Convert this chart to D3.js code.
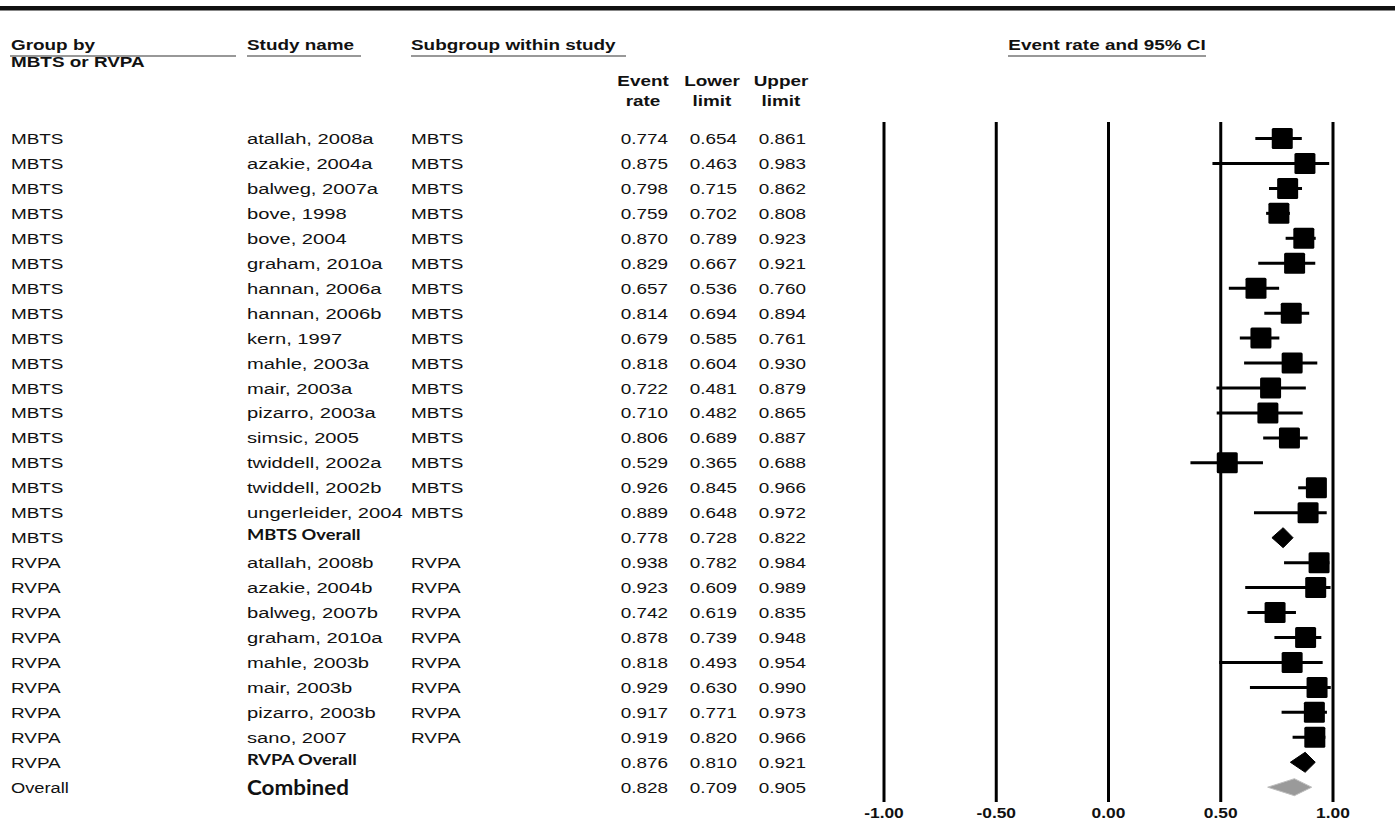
<!DOCTYPE html>
<html>
<head>
<meta charset="utf-8">
<script src="https://cdn.jsdelivr.net/npm/d3@7/dist/d3.min.js"></script>
<style>
  html, body { margin: 0; padding: 0; background: #fff; }
  svg { display: block; }
</style>
</head>
<body>
<script>
// ---------------- DATA ----------------
const groups = ["MBTS","MBTS","MBTS","MBTS","MBTS","MBTS","MBTS","MBTS","MBTS","MBTS","MBTS","MBTS","MBTS","MBTS","MBTS","MBTS","MBTS",
  "RVPA","RVPA","RVPA","RVPA","RVPA","RVPA","RVPA","RVPA","RVPA","Overall"];
const studies = ["atallah, 2008a","azakie, 2004a","balweg, 2007a","bove, 1998","bove, 2004","graham, 2010a","hannan, 2006a",
  "hannan, 2006b","kern, 1997","mahle, 2003a","mair, 2003a","pizarro, 2003a","simsic, 2005","twiddell, 2002a",
  "twiddell, 2002b","ungerleider, 2004","MBTS Overall",
  "atallah, 2008b","azakie, 2004b","balweg, 2007b","graham, 2010a","mahle, 2003b","mair, 2003b","pizarro, 2003b",
  "sano, 2007","RVPA Overall","Combined"];
const subgroups = ["MBTS","MBTS","MBTS","MBTS","MBTS","MBTS","MBTS","MBTS","MBTS","MBTS","MBTS","MBTS","MBTS","MBTS","MBTS","MBTS","",
  "RVPA","RVPA","RVPA","RVPA","RVPA","RVPA","RVPA","RVPA","",""];
const eventRate = [0.774,0.875,0.798,0.759,0.870,0.829,0.657,0.814,0.679,0.818,0.722,0.710,0.806,0.529,0.926,0.889,0.778,
  0.938,0.923,0.742,0.878,0.818,0.929,0.917,0.919,0.876,0.828];
const lowerLimit = [0.654,0.463,0.715,0.702,0.789,0.667,0.536,0.694,0.585,0.604,0.481,0.482,0.689,0.365,0.845,0.648,0.728,
  0.782,0.609,0.619,0.739,0.493,0.630,0.771,0.820,0.810,0.709];
const upperLimit = [0.861,0.983,0.862,0.808,0.923,0.921,0.760,0.894,0.761,0.930,0.879,0.865,0.887,0.688,0.966,0.972,0.822,
  0.984,0.989,0.835,0.948,0.954,0.990,0.973,0.966,0.921,0.905];
const rowKind = ["study","study","study","study","study","study","study","study","study","study","study","study","study","study","study","study","subtotal",
  "study","study","study","study","study","study","study","study","subtotal","total"];
const axisTicks = [-1.00,-0.50,0.00,0.50,1.00];

// ---------------- LAYOUT ----------------
const W = 1395, H = 825;
const svg = d3.select("body").append("svg").attr("width", W).attr("height", H);

const SANS = "'Liberation Sans', Arial, Helvetica, sans-serif";
const CAL = "Lato, 'Open Sans', sans-serif";
const SX = 1.22; // horizontal stretch seen in the reference text
const FS = 15.5;

function txt(x, y, s, o = {}) {
  return svg.append("text")
    .attr("transform", `translate(${x},${y}) scale(${o.sx ?? SX},1)`)
    .attr("font-family", o.family || SANS)
    .attr("font-size", o.size || FS)
    .attr("font-weight", o.weight || "normal")
    .attr("text-anchor", o.anchor || "start")
    .attr("fill", "#111")
    .text(s);
}

const rowY = d3.scaleLinear().domain([0, 1]).range([138.5, 138.5 + 24.95]);
const x = d3.scaleLinear().domain([-1, 1]).range([884, 1333]);
const fmtTick = v => d3.format(".2f")(v).replace("\u2212", "-");

// top rule
svg.append("rect").attr("x", 0).attr("y", 6).attr("width", W).attr("height", 4.5).attr("fill", "#111");

// headers
txt(11, 50, "Group by", {weight: "bold"});
txt(11, 67, "MBTS or RVPA", {weight: "bold"});
txt(247, 50, "Study name", {weight: "bold"});
txt(411, 50, "Subgroup within study", {weight: "bold"});
txt(1107, 50, "Event rate and 95% CI", {weight: "bold", anchor: "middle"});
const ul = [[10, 236], [247, 361], [411, 626], [1008, 1206]];
ul.forEach(([a, b]) => svg.append("line").attr("x1", a).attr("x2", b).attr("y1", 56).attr("y2", 56)
  .attr("stroke", "#333").attr("stroke-width", 1.2));

const numCols = [{x: 668, top: "Event", bot: "rate", cx: 643},
                 {x: 737, top: "Lower", bot: "limit", cx: 712},
                 {x: 806, top: "Upper", bot: "limit", cx: 781}];
numCols.forEach(c => {
  txt(c.cx, 86, c.top, {weight: "bold", anchor: "middle"});
  txt(c.cx, 106, c.bot, {weight: "bold", anchor: "middle"});
});

// rows
const idx = d3.range(studies.length);
idx.forEach(i => {
  const yb = rowY(i) + 5.5;
  txt(11, yb, groups[i], groups[i] === "Overall" ? {sx: 1.18} : {});
  const k = rowKind[i];
  if (k === "study") {
    txt(247, yb, studies[i], {sx: 1.3});
  } else if (k === "subtotal") {
    txt(247, yb - 3, studies[i], {family: CAL, weight: "bold", size: 15.5, sx: 1.18});
  } else {
    txt(247, yb + 2, studies[i], {family: CAL, weight: "bold", size: 20, sx: 1.12});
  }
  txt(411, yb, subgroups[i]);
  [eventRate, lowerLimit, upperLimit].forEach((arr, j) => {
    txt(numCols[j].x, yb, d3.format(".3f")(arr[i]), {anchor: "end"});
  });
});

// plot: vertical reference lines
svg.selectAll("line.grid").data(axisTicks).join("line")
  .attr("class", "grid")
  .attr("x1", d => x(d)).attr("x2", d => x(d))
  .attr("y1", 122).attr("y2", 802)
  .attr("stroke", "#000").attr("stroke-width", 3);

axisTicks.forEach(t => txt(x(t), 818, fmtTick(t), {weight: "bold", anchor: "middle", sx: 1.12}));

// CI lines & squares
const studyIdx = idx.filter(i => rowKind[i] === "study");
svg.selectAll("line.ci").data(studyIdx).join("line")
  .attr("class", "ci")
  .attr("x1", i => x(lowerLimit[i])).attr("x2", i => x(upperLimit[i]))
  .attr("y1", i => rowY(i)).attr("y2", i => rowY(i))
  .attr("stroke", "#000").attr("stroke-width", 3);

const SQ = 21;
svg.selectAll("rect.sq").data(studyIdx).join("rect")
  .attr("class", "sq")
  .attr("x", i => x(eventRate[i]) - SQ / 2).attr("y", i => rowY(i) - SQ / 2)
  .attr("width", SQ).attr("height", SQ).attr("rx", 1.5)
  .attr("fill", "#000");

// diamonds
const diaIdx = idx.filter(i => rowKind[i] !== "study");
svg.selectAll("path.dia").data(diaIdx).join("path")
  .attr("class", "dia")
  .attr("d", i => {
    const y = rowY(i), h = rowKind[i] === "total" ? 8.5 : 10;
    return `M${x(lowerLimit[i])},${y} L${x(eventRate[i])},${y - h} L${x(upperLimit[i])},${y} L${x(eventRate[i])},${y + h} Z`;
  })
  .attr("fill", i => rowKind[i] === "total" ? "#9a9a9a" : "#000")
  .attr("stroke", i => rowKind[i] === "total" ? "#bdbdbd" : "#000")
  .attr("stroke-width", 1);
</script>
</body>
</html>
